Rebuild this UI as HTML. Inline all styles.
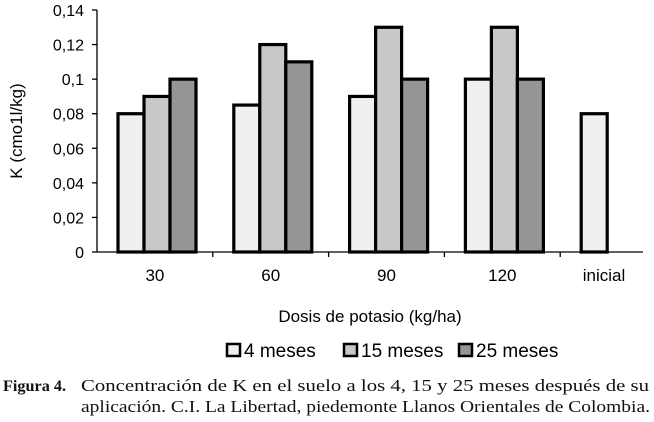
<!DOCTYPE html>
<html><head><meta charset="utf-8"><style>
html,body{margin:0;padding:0;background:#fff;width:654px;height:422px;overflow:hidden}
svg text{font-family:"Liberation Sans",sans-serif;fill:#000}
svg text.serif{font-family:"Liberation Serif",serif;fill:#111}
</style></head><body>
<svg width="654" height="422" style="position:absolute;left:0;top:0" id="chart">
<text class="serif" x="3" y="391" font-size="16" font-weight="bold" textLength="63" lengthAdjust="spacingAndGlyphs">Figura 4.</text>
<text class="serif" x="81" y="391" font-size="16.5" textLength="568" lengthAdjust="spacingAndGlyphs">Concentración de K en el suelo a los 4, 15 y 25 meses después de su</text>
<text class="serif" x="81" y="412" font-size="16.5" textLength="569" lengthAdjust="spacingAndGlyphs">aplicación. C.I. La Libertad, piedemonte Llanos Orientales de Colombia.</text>
</svg>
<script>
const categories=["30","60","90","120","inicial"];
const s4=[0.08,0.085,0.09,0.10,0.08];
const s15=[0.09,0.12,0.13,0.13,null];
const s25=[0.10,0.11,0.10,0.10,null];
const yTicks=[0,0.02,0.04,0.06,0.08,0.1,0.12,0.14];
const yTickLabels=["0","0,02","0,04","0,06","0,08","0,1","0,12","0,14"];
const seriesNames=["4 meses","15 meses","25 meses"];
const colors=["#efefef","#c8c8ca","#959597"];
const NS="http://www.w3.org/2000/svg";
const svg=document.getElementById('chart');
const x0=97,x1=676,yb=252,yt=10;
const bw=(x1-x0)/categories.length;
const y=v=>yb-(v/0.14)*(yb-yt);
const xc=i=>x0+i*bw;
function mk(t,a){const e=document.createElementNS(NS,t);for(const k in a)e.setAttribute(k,a[k]);svg.appendChild(e);return e;}
let e;
e=mk('line',{x1:x0,y1:yt,x2:x0,y2:yb,stroke:'#000','stroke-width':1.3});


yTicks.forEach((v,i)=>{
 e=mk('line',{x1:x0-5,y1:y(v),x2:x0,y2:y(v),stroke:'#000','stroke-width':1.3});
 
 
 e=mk('text',{x:x0-13,y:y(v)+6,'text-anchor':'end','font-size':16});
 e.textContent=yTickLabels[i];
 
 
});
e=mk('line',{x1:x0,y1:yb,x2:643,y2:yb,stroke:'#000','stroke-width':1.3});


categories.forEach((c,i)=>{
 if(i>0){e=mk('line',{x1:xc(i),y1:yb,x2:xc(i),y2:yb+5,stroke:'#000','stroke-width':1.3});
 
 }
 e=mk('text',{x:i==4?604:xc(i)+bw/2,y:281,'text-anchor':'middle','font-size':17});
 e.textContent=c;
 
 
});
const series=[s4,s15,s25];
const bar=26;
categories.forEach((c,i)=>{
 series.forEach((s,j)=>{
  const v=s[i]; if(v==null) return;
  const bx=xc(i)+21+j*bar;
  e=mk('rect',{x:bx,y:y(v),width:bar,height:yb-y(v),fill:colors[j],stroke:'#000','stroke-width':3.2});
  
  
 });
});
e=mk('text',{x:370,y:322,'text-anchor':'middle','font-size':17});
e.textContent='Dosis de potasio (kg/ha)';


e=mk('text',{x:0,y:0,'text-anchor':'middle','font-size':17,transform:'translate(22,131) rotate(-90)'});
e.textContent='K (cmo1l/kg)';


const lx=[227,344,459];
seriesNames.forEach((n,j)=>{
 e=mk('rect',{x:lx[j],y:344,width:13,height:12,fill:colors[j],stroke:'#000','stroke-width':2.5});
 
 
 e=mk('text',{x:lx[j]+17,y:357,'font-size':19});
 e.textContent=n;
 
 
});
</script>
</body></html>
